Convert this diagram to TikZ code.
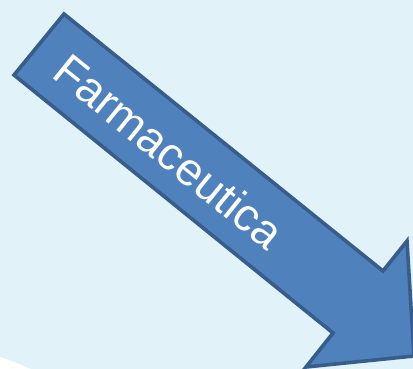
\documentclass[tikz,border=0pt]{standalone}
\usepackage{fontspec}
\setmainfont{Liberation Sans}
\definecolor{bgblue}{RGB}{225,243,248}
\definecolor{arrfill}{RGB}{79,129,189}
\definecolor{arrline}{RGB}{56,93,138}
\tikzset{
  bigarrow/.style={fill=arrfill, draw=arrline, line width=3.6pt, line join=miter},
  arrowtext/.style={text=white, font=\fontsize{46}{46}\selectfont, rotate=-39, inner sep=0pt}
}
\begin{document}
\begin{tikzpicture}[x=1pt,y=-1pt]
\useasboundingbox (0,0) rectangle (413,369);
\clip (0,0) rectangle (413,369);
\fill[bgblue] (0,0) rectangle (413,369);
\fill[white] (0,357) .. controls (12,361) and (22,365) .. (33,370) -- (0,370) -- cycle;
\draw[bigarrow] (64,14) coordinate (a1) -- (383,271) coordinate (a2) -- (407,241) coordinate (a3)
  -- (414,356) coordinate (a4) -- (306,367) coordinate (a5) -- (333,333) coordinate (a6)
  -- (14,75) coordinate (a7) -- cycle;
\node[arrowtext] (label) at (169,151) {Farmaceutica};
\end{tikzpicture}
\end{document}
